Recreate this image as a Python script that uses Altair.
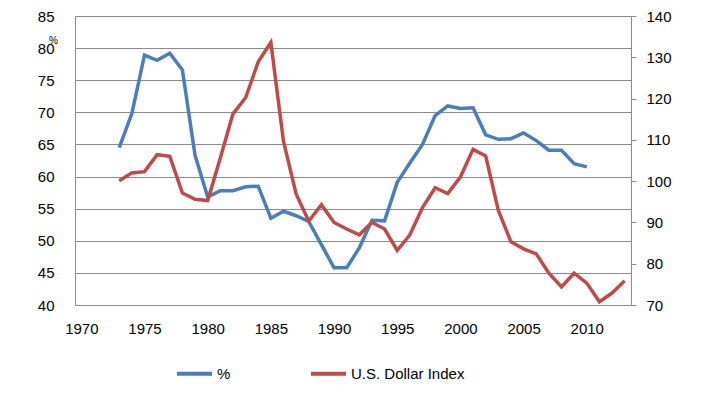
import altair as alt
import pandas as pd

# ---- data ----
pct_years = list(range(1973, 2011))
pct_values = [64.5, 69.8, 78.9, 78.1, 79.2, 76.6, 63.3, 56.8, 57.8, 57.8,
              58.4, 58.5, 53.5, 54.6, 53.9, 53.0, 49.4, 45.8, 45.8, 48.9,
              53.2, 53.1, 59.1, 62.1, 65.0, 69.5, 71.0, 70.6, 70.7, 66.5,
              65.8, 65.9, 66.8, 65.6, 64.1, 64.1, 62.0, 61.5]

usd_years = list(range(1973, 2014))
usd_values = [100.1, 102.0, 102.3, 106.4, 106.0, 97.1, 95.6, 95.3, 105.6, 116.3,
              120.2, 128.9, 133.6, 109.6, 96.9, 90.3, 94.3, 90.0, 88.4, 87.0,
              90.0, 88.4, 83.2, 87.0, 93.6, 98.4, 97.0, 101.0, 107.7, 106.1,
              92.9, 85.3, 83.6, 82.4, 77.7, 74.4, 77.7, 75.3, 70.8, 72.9, 75.9]

series_names = ["%", "U.S. Dollar Index"]
series_colors = ["#4A7EBB", "#BE4B48"]
x_ticks = [1970, 1975, 1980, 1985, 1990, 1995, 2000, 2005, 2010]
left_ticks = [40, 45, 50, 55, 60, 65, 70, 75, 80, 85]
right_ticks = [70, 80, 90, 100, 110, 120, 130, 140]

df_pct = pd.DataFrame({"year": pct_years, "value": pct_values, "series": series_names[0]})
df_usd = pd.DataFrame({"year": usd_years, "value": usd_values, "series": series_names[1]})

FONT = "Liberation Sans, Arial, sans-serif"
GRAY = "#8c8c8c"
LABEL_SIZE = 15

color = alt.Color(
    "series:N",
    scale=alt.Scale(domain=series_names, range=series_colors),
    legend=alt.Legend(
        title=None, orient="none", direction="horizontal",
        legendX=100, legendY=338, padding=0,
        symbolType="stroke", symbolSize=1225, symbolStrokeWidth=4,
        labelFont=FONT, labelFontSize=15, labelColor="#000000",
        labelOffset=3, columnPadding=72,
    ),
)

x = alt.X(
    "year:Q",
    scale=alt.Scale(domain=[1969.5, 2013.5], nice=False, zero=False),
    axis=alt.Axis(values=x_ticks, format="d", grid=False, ticks=False,
                  domainColor=GRAY, labelPadding=16, title=None,
                  labelFont=FONT, labelFontSize=LABEL_SIZE, labelColor="#000000"),
)

left = alt.Chart(df_pct).mark_line(strokeWidth=3.5).encode(
    x=x,
    y=alt.Y("value:Q",
            scale=alt.Scale(domain=[40, 85], nice=False, zero=False),
            axis=alt.Axis(values=left_ticks, grid=True, gridColor=GRAY, ticks=False,
                          domainColor=GRAY, labelPadding=21,
                          labelFont=FONT, labelFontSize=LABEL_SIZE, labelColor="#000000",
                          title="%", titleAngle=0, titleX=-22, titleY=24,
                          titleAlign="center", titleBaseline="middle",
                          titleFont=FONT, titleFontSize=10, titleFontWeight="normal",
                          titleColor="#000000")),
    color=color,
)

right = alt.Chart(df_usd).mark_line(strokeWidth=3.5).encode(
    x=x,
    y=alt.Y("value:Q",
            scale=alt.Scale(domain=[70, 140], nice=False, zero=False),
            axis=alt.Axis(orient="right", values=right_ticks, grid=False,
                          ticks=True, tickSize=5, tickColor=GRAY,
                          domainColor=GRAY, labelPadding=10,
                          labelFont=FONT, labelFontSize=LABEL_SIZE, labelColor="#000000",
                          title=None)),
    color=color,
)

chart = (
    alt.layer(left, right)
    .resolve_scale(y="independent")
    .properties(
        width=556, height=289,
        padding={"left": 67, "top": 8, "right": 70, "bottom": 84},
        autosize=alt.AutoSizeParams(type="none"),
    )
    .configure_view(stroke=None)
)

chart.save("out.html", embed_options={"renderer": "svg", "actions": False})
